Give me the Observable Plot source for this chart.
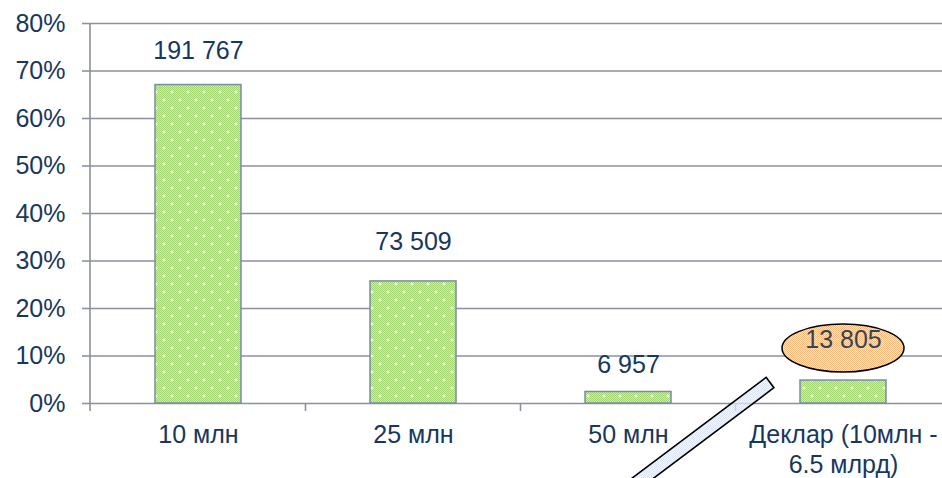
<!DOCTYPE html>
<html><head><meta charset="utf-8">
<script src="https://cdn.jsdelivr.net/npm/d3@7"></script>
<script src="https://cdn.jsdelivr.net/npm/@observablehq/plot@0.6"></script>
<style>body{margin:0;background:#fff} svg{display:block}</style>
</head><body><div id="chart"></div>
<script>
const categories = ["10 млн", "25 млн", "50 млн", "Деклар"];
const axisLabels = ["10 млн", "25 млн", "50 млн", "Деклар (10млн -\n6.5 млрд)"];
const shares = [0.6704, 0.2570, 0.0243, 0.0483];
const countLabels = ["191 767", "73 509", "6 957", "13 805"];
const yTicks = [0, 0.1, 0.2, 0.3, 0.4, 0.5, 0.6, 0.7, 0.8];

const data = categories.map((c, i) => ({cat: c, share: shares[i], label: countLabels[i]}));
const gray = "#8c90a0";
const navy = "#17375e";
const font = "'Liberation Sans', Arial, sans-serif";
const fs = 25;

const lbl = (i, dy, extra = {}) => Plot.text([data[i]], {
  x: "cat", y: "share", text: "label", dy, fontSize: fs, fill: navy, ...extra
});

const chart = Plot.plot({
  width: 942, height: 478,
  marginLeft: 90, marginRight: 0, marginTop: 23, marginBottom: 75,
  style: {fontFamily: font, fontSize: fs + "px", color: navy, background: "#fff", overflow: "hidden"},
  x: {domain: categories, range: [90, 950], paddingInner: 0.6, paddingOuter: 0.3, label: null},
  y: {domain: [0, 0.8], label: null},
  marks: [
    Plot.gridY(yTicks, {stroke: gray, strokeOpacity: 1, strokeWidth: 1.6}),
    Plot.barY(data, {x: "cat", y: "share", fill: "url(#greenPat)", stroke: "#7a8ca3", strokeWidth: 1.5}),
    Plot.axisY(yTicks, {label: null, tickFormat: d3.format(".0%"), tickSize: 8, tickPadding: 17, stroke: gray, strokeWidth: 1.6, fill: navy, fontSize: fs}),
    Plot.axisX({label: null, tickSize: 0, tickPadding: 18, tickFormat: (d) => axisLabels[categories.indexOf(d)], fill: navy, fontSize: fs, lineHeight: 1.2}),
    lbl(0, -34),
    lbl(1, -39),
    lbl(2, -27),
    lbl(3, -41, {fill: "#33455b", className: "decl-label"})
  ]
});
document.getElementById("chart").appendChild(chart);

const svg = d3.select(chart);
const defs = svg.insert("defs", ":first-child");
function checker(id, a, b) {
  const p = defs.append("pattern").attr("id", id).attr("width", 2).attr("height", 2).attr("patternUnits", "userSpaceOnUse");
  p.append("rect").attr("width", 2).attr("height", 2).attr("fill", b);
  p.append("rect").attr("width", 1).attr("height", 1).attr("fill", a);
  p.append("rect").attr("x", 1).attr("y", 1).attr("width", 1).attr("height", 1).attr("fill", a);
}
checker("gChk", "#a2d470", "#cfeab4");
checker("oChk", "#f6bb7e", "#fde2c4");
checker("bChk", "#d3ddef", "#eef2fa");
const gp = defs.append("pattern").attr("id", "greenPat").attr("width", 16).attr("height", 16).attr("patternUnits", "userSpaceOnUse");
gp.append("rect").attr("width", 16).attr("height", 16).attr("fill", "url(#gChk)");
for (const [cx, cy] of [[4, 4], [12, 12]]) {
  gp.append("rect").attr("x", cx - 1.5).attr("y", cy - 0.5).attr("width", 3).attr("height", 1).attr("fill", "#fff");
  gp.append("rect").attr("x", cx - 0.5).attr("y", cy - 1.5).attr("width", 1).attr("height", 3).attr("fill", "#fff");
}

const xs = chart.scale("x"), ys = chart.scale("y");
const step = (xs.range[1] - xs.range[0]) / categories.length;
const bw = xs.bandwidth;
const y0 = ys.apply(0);
const deco = svg.append("g");
deco.append("line").attr("x1", xs.range[0]).attr("x2", xs.range[0])
  .attr("y1", ys.apply(0.8)).attr("y2", y0 + 8).attr("stroke", gray).attr("stroke-width", 1.6);
for (let i = 1; i < categories.length; i++) {
  const bx = xs.apply(categories[i]) - (step - bw) / 2;
  deco.append("line").attr("x1", bx).attr("x2", bx).attr("y1", y0).attr("y2", y0 + 8)
    .attr("stroke", gray).attr("stroke-width", 1.6);
}
const ecx = xs.apply(categories[3]) + bw / 2;
const ecy = ys.apply(shares[3]) - 32;
deco.append("ellipse").attr("cx", ecx).attr("cy", ecy).attr("rx", 61).attr("ry", 24)
  .attr("fill", "url(#oChk)").attr("stroke", "#000").attr("stroke-width", 1.5);
svg.select(".decl-label").raise();

const bx3 = xs.apply(categories[3]) - (step - bw) / 2;
const C = [bx3 + 34.5, y0 - 20.5];
const u = [-0.799, 0.601], n = [0.601, 0.799], hw = 6.5, L = 240;
const pts = [
  [C[0] - n[0] * hw, C[1] - n[1] * hw],
  [C[0] + n[0] * hw, C[1] + n[1] * hw],
  [C[0] + n[0] * hw + u[0] * L, C[1] + n[1] * hw + u[1] * L],
  [C[0] - n[0] * hw + u[0] * L, C[1] - n[1] * hw + u[1] * L]
];
svg.append("polygon").attr("points", pts.map(p => p.join(",")).join(" "))
  .attr("fill", "url(#bChk)").attr("fill-opacity", 0.75).attr("stroke", "#000").attr("stroke-width", 1.6);
</script>
</body></html>
